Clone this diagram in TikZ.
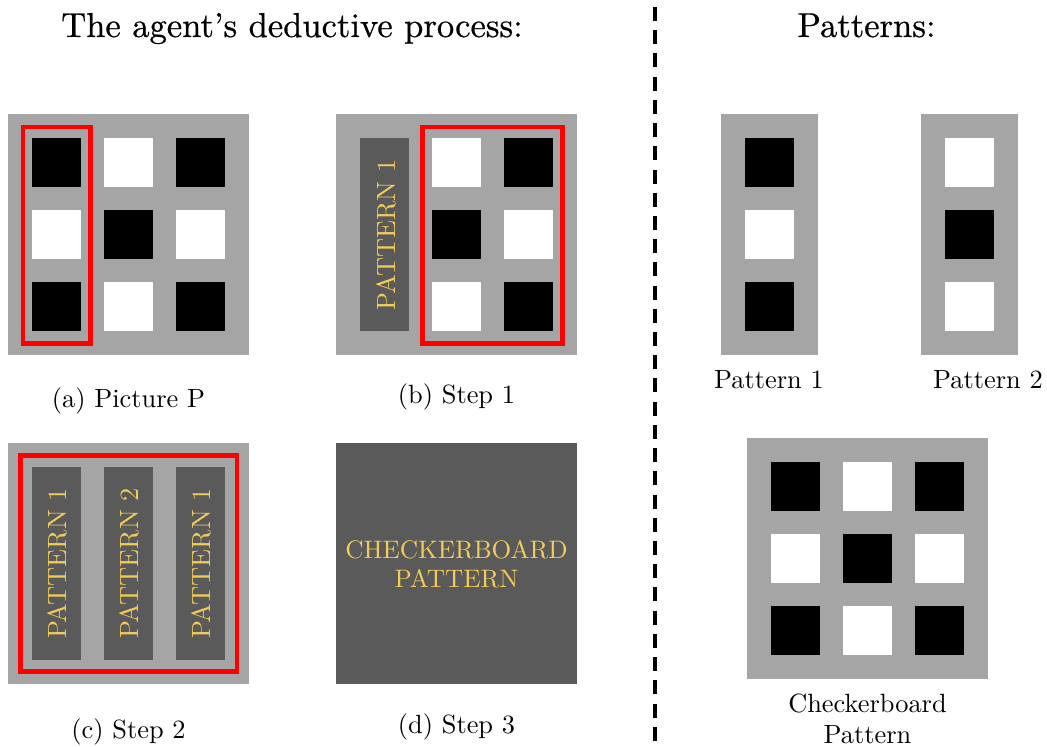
\documentclass[tikz,border=0pt]{standalone}
\usepackage{fontspec}
\newfontfamily\headfont[FakeBold=0.6,Ligatures=TeX]{lmroman10-regular.otf}
\definecolor{panelgray}{RGB}{165,165,165}
\definecolor{stripgray}{RGB}{90,90,90}
\definecolor{labelgold}{RGB}{242,204,88}
\tikzset{
  panel/.style={fill=panelgray},
  strip/.style={fill=stripgray},
  focus/.style={draw=red, line width=1.65pt},
  goldtext/.style={text=labelgold, font=\normalsize, inner sep=0pt},
  caption/.style={anchor=base, font=\normalsize, inner sep=0pt},
  heading/.style={anchor=base, font=\headfont\fontsize{13.1}{16}\selectfont, inner sep=0pt},
  divider/.style={dash pattern=on 5.3pt off 3.5pt, line width=1.25pt},
}
% one 49x49 cell, top-left corner given
\newcommand\boardcell[3]{\fill[#3] (#1,#2) rectangle ++(49,49);}
% a 3x3 checkerboard of cells, top-left corner of the first cell given
\newcommand\checkercells[2]{%
  \foreach \dx/\dy/\col in {0/0/black,72/0/white,144/0/black,
                            0/72/white,72/72/black,144/72/white,
                            0/144/black,72/144/white,144/144/black}
    {\fill[\col] ({#1+\dx},{#2+\dy}) rectangle ++(49,49);}}
\begin{document}
\begin{tikzpicture}[x=0.379pt, y=-0.379pt]
\useasboundingbox (0,0) rectangle (1047,747);

% headings
\node[heading] (htitle) at (292,37) {The agent’s deductive process:};
\node[heading] (ptitle) at (866.5,37) {Patterns:};

% divider
\coordinate (dtop) at (655,7);
\coordinate (dbot) at (655,747);
\draw[divider] (dtop) -- (dbot);

% (a) picture P
\fill[panel] (8,114) rectangle (249,355);
\checkercells{32}{138}
\draw[focus] (23,127) rectangle (90.5,343.5);
\node[caption] (capa) at (128.5,407.5) {(a) Picture P};

% (b) step 1
\fill[panel] (336,114) rectangle (577,355);
\fill[strip] (360,138) rectangle (409,331);
\node[goldtext, rotate=90] (b1) at (386,235) {PATTERN 1};
\boardcell{432}{138}{white}
\boardcell{504}{138}{black}
\boardcell{432}{210}{black}
\boardcell{504}{210}{white}
\boardcell{432}{282}{white}
\boardcell{504}{282}{black}
\draw[focus] (422.5,127) rectangle (562.5,343.5);
\node[caption] (capb) at (456.5,404) {(b) Step 1};

% (c) step 2
\fill[panel] (8,443) rectangle (249,684);
\fill[strip] (32,467) rectangle (81,660);
\fill[strip] (104,467) rectangle (153,660);
\fill[strip] (176,467) rectangle (225,660);
\node[goldtext, rotate=90] (c1) at (57,563.5) {PATTERN 1};
\node[goldtext, rotate=90] (c2) at (129,563.5) {PATTERN 2};
\node[goldtext, rotate=90] (c3) at (201,563.5) {PATTERN 1};
\draw[focus] (20.5,455.5) rectangle (237,671.5);
\node[caption] (capc) at (128.5,738.5) {(c) Step 2};

% (d) step 3
\fill[strip] (336,443) rectangle (577,684);
\node[goldtext, align=center, font=\fontsize{9.6}{11}\selectfont] (d1) at (456.5,564.5) {CHECKERBOARD\\PATTERN};
\node[caption] (capd) at (456.5,734) {(d) Step 3};

% pattern 1
\fill[panel] (721,114) rectangle (818,355);
\boardcell{745}{138}{black}
\boardcell{745}{210}{white}
\boardcell{745}{282}{black}
\node[caption] (p1) at (769,389) {Pattern 1};

% pattern 2
\fill[panel] (921,114) rectangle (1018,355);
\boardcell{945}{138}{white}
\boardcell{945}{210}{black}
\boardcell{945}{282}{white}
\node[caption] (p2) at (988,389) {Pattern 2};

% checkerboard pattern
\fill[panel] (747,438) rectangle (988,679);
\checkercells{771}{462}
\node[caption] (cb1) at (867.5,712.5) {Checkerboard};
\node[caption] (cb2) at (867.5,744) {Pattern};
\end{tikzpicture}
\end{document}
